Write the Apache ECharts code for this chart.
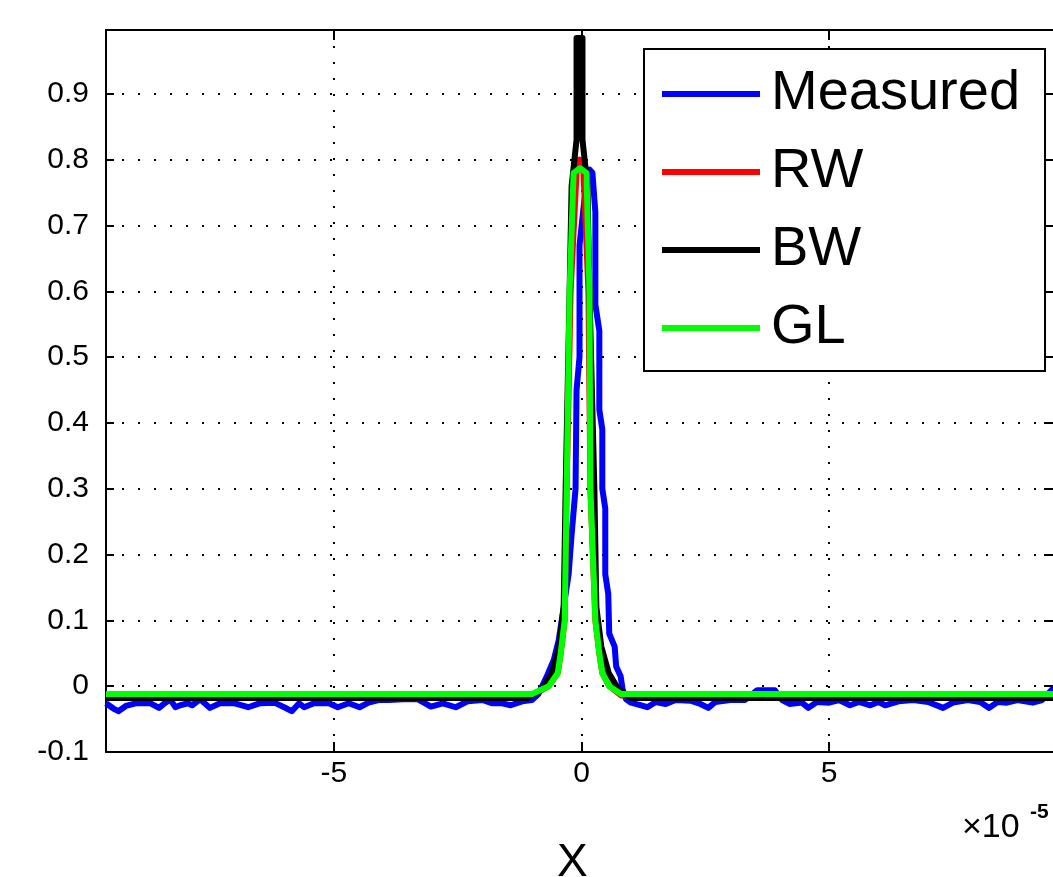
<!doctype html>
<html lang="en">
<head>
<meta charset="UTF-8">
<title>Measured / RW / BW / GL</title>
<style>
    *{padding:0;margin:0;}
    body{background:#fff;}
    #main{width:1053px;height:877px;}
</style>
</head>
<body>
<div id="main"></div>
<script src="https://cdn.jsdelivr.net/npm/echarts@6/dist/echarts.min.js"></script>
<script>
// x values are in units of 1e-5 (axis shows "x 10^-5")
var xMin = -9.6, xMax = 9.6;
var yMin = -0.1, yMax = 0.997;
var xTickLabels = [-5, 0, 5];

// measured curve, split in three pieces (left baseline, peak, right baseline)
var measLeftX = [-9.6, -9.45, -9.35, -9.2, -9.0, -8.7, -8.53, -8.4, -8.3, -8.2, -8.1, -7.95, -7.86, -7.7, -7.5, -7.3, -7.0, -6.73, -6.5, -6.2, -5.95, -5.85, -5.7, -5.6, -5.4, -5.1, -4.92, -4.7, -4.48, -4.3, -4.1, -3.9, -3.6, -3.3, -3.04, -2.8, -2.54, -2.3, -2.0, -1.8, -1.6, -1.43, -1.2, -1.0];
var measLeftY = [-0.026, -0.034, -0.038, -0.03, -0.026, -0.026, -0.033, -0.025, -0.02, -0.032, -0.029, -0.026, -0.029, -0.02, -0.033, -0.026, -0.026, -0.032, -0.026, -0.025, -0.034, -0.038, -0.026, -0.032, -0.026, -0.026, -0.032, -0.026, -0.032, -0.025, -0.021, -0.021, -0.02, -0.02, -0.031, -0.026, -0.032, -0.023, -0.021, -0.026, -0.026, -0.029, -0.023, -0.021];
var measPeakX = [-0.87, -0.7, -0.56, -0.46, -0.4, -0.26, -0.2, -0.12, -0.1, -0.04, -0.04, 0.06, 0.16, 0.22, 0.28, 0.28, 0.36, 0.36, 0.42, 0.42, 0.48, 0.48, 0.54, 0.56, 0.67, 0.70, 0.79, 0.83, 0.9];
var measPeakY = [-0.012, 0.015, 0.04, 0.07, 0.1, 0.17, 0.23, 0.3, 0.45, 0.5, 0.67, 0.74, 0.785, 0.78, 0.72, 0.58, 0.54, 0.42, 0.39, 0.30, 0.27, 0.17, 0.14, 0.08, 0.06, 0.03, 0.015, -0.005, -0.02];
var measRightX = [1.0, 1.15, 1.33, 1.5, 1.7, 1.9, 2.2, 2.4, 2.56, 2.7, 3.0, 3.3, 3.55, 3.9, 4.05, 4.2, 4.45, 4.58, 4.75, 5.0, 5.2, 5.42, 5.6, 5.83, 6.0, 6.13, 6.4, 6.7, 7.0, 7.3, 7.5, 7.8, 8.05, 8.23, 8.4, 8.59, 8.8, 9.11, 9.3, 9.5, 9.6];
var measRightY = [-0.025, -0.028, -0.032, -0.024, -0.027, -0.021, -0.022, -0.027, -0.033, -0.024, -0.021, -0.021, -0.006, -0.006, -0.021, -0.027, -0.025, -0.033, -0.024, -0.025, -0.021, -0.029, -0.024, -0.029, -0.024, -0.029, -0.023, -0.021, -0.024, -0.033, -0.025, -0.021, -0.024, -0.033, -0.024, -0.025, -0.021, -0.025, -0.021, -0.005, -0.005];

// RW
var rwX = [-9.6, -1.0, -0.66, -0.48, -0.42, -0.34, -0.30, -0.22, -0.1, -0.04, 0.04, 0.14, 0.18, 0.28, 0.36, 0.42, 0.56, 0.8, 9.6];
var rwY = [-0.014, -0.014, 0.0, 0.02, 0.05, 0.1, 0.3, 0.6, 0.78, 0.80, 0.78, 0.6, 0.3, 0.1, 0.05, 0.02, 0.0, -0.014, -0.014];

// BW (narrow flat-topped column)
var bwX = [-9.6, -1.1, -0.8, -0.6, -0.45, -0.36, -0.32, -0.24, -0.2, -0.1, -0.1, 0.02, 0.02, 0.12, 0.16, 0.26, 0.3, 0.4, 0.55, 0.75, 1.0, 9.6];
var bwY = [-0.018, -0.018, -0.005, 0.02, 0.06, 0.12, 0.3, 0.6, 0.76, 0.83, 0.985, 0.985, 0.83, 0.76, 0.6, 0.3, 0.12, 0.06, 0.02, -0.005, -0.018, -0.018];

// GL
var glX = [-9.6, -1.0, -0.66, -0.48, -0.42, -0.34, -0.30, -0.24, -0.16, -0.03, 0.10, 0.16, 0.18, 0.28, 0.36, 0.42, 0.56, 0.8, 9.6];
var glY = [-0.012, -0.012, 0.0, 0.02, 0.05, 0.1, 0.3, 0.6, 0.78, 0.787, 0.78, 0.6, 0.3, 0.1, 0.05, 0.02, 0.0, -0.012, -0.012];

var font = "'Liberation Sans', Arial, sans-serif";

function pairs(xs, ys){
    var out = [];
    for (var i = 0; i < xs.length; i++) {
        out.push([xs[i], ys[i]]);
    }
    return out;
}

var measured = pairs(measLeftX, measLeftY)
    .concat(pairs(measPeakX, measPeakY))
    .concat(pairs(measRightX, measRightY));

function lineSeries(name, data, color){
    return {
        name: name,
        type: 'line',
        data: data,
        showSymbol: false,
        symbol: 'none',
        lineStyle: {color: color, width: 6, join: 'round'},
        itemStyle: {color: color},
        emphasis: {disabled: true}
    };
}

var axisLine = {onZero: false, lineStyle: {color: '#000', width: 2}};
var dotted = {show: true, lineStyle: {color: '#000', width: 2, type: [2, 14]}};

var myChart = echarts.init(document.getElementById('main'));
var option = {
    animation: false,
    backgroundColor: '#fff',
    // right side of the box sits just past the picture edge
    grid: {left: 106, top: 30, width: 951, height: 722, outerBoundsMode: 'none', containLabel: false},
    legend: {
        orient: 'vertical',
        left: 644,
        top: 49,
        backgroundColor: '#fff',
        borderColor: '#000',
        borderWidth: 2,
        padding: [17, 25, 15, 18],
        itemGap: 22,
        itemWidth: 98,
        itemHeight: 6,
        icon: 'rect',
        textStyle: {fontSize: 56, fontFamily: font, color: '#000', padding: [0, 0, 0, 6]},
        data: ['Measured', 'RW', 'BW', 'GL']
    },
    xAxis: [{
        type: 'value',
        position: 'bottom',
        min: xMin,
        max: xMax,
        splitNumber: 4,
        axisLine: axisLine,
        axisTick: {inside: true, length: 10, lineStyle: {color: '#000', width: 2}},
        axisLabel: {
            color: '#000', fontSize: 30, fontFamily: font, margin: 7,
            formatter: function (v) { return xTickLabels.indexOf(v) >= 0 ? String(v) : ''; }
        },
        splitLine: dotted
    }, {
        type: 'value',
        position: 'top',
        min: xMin,
        max: xMax,
        splitNumber: 4,
        axisLine: axisLine,
        axisTick: {inside: true, length: 10, lineStyle: {color: '#000', width: 2}},
        axisLabel: {show: false},
        splitLine: {show: false}
    }],
    yAxis: [{
        type: 'value',
        position: 'left',
        min: yMin,
        max: yMax,
        interval: 0.1,
        axisLine: axisLine,
        axisTick: {inside: true, length: 8, lineStyle: {color: '#000', width: 2}},
        axisLabel: {
            color: '#000', fontSize: 30, fontFamily: font, margin: 17,
            formatter: function (v) { return v > 0.95 ? '' : String(Math.round(v * 10) / 10); }
        },
        splitLine: dotted
    }, {
        type: 'value',
        position: 'right',
        min: yMin,
        max: yMax,
        interval: 0.1,
        axisLine: axisLine,
        axisTick: {inside: true, length: 13, lineStyle: {color: '#000', width: 2}},
        axisLabel: {show: false},
        splitLine: {show: false}
    }],
    series: [
        lineSeries('Measured', measured, '#0000ff'),
        lineSeries('RW', pairs(rwX, rwY), '#ff0000'),
        lineSeries('BW', pairs(bwX, bwY), '#000000'),
        lineSeries('GL', pairs(glX, glY), '#00ff00')
    ],
    graphic: [{
        type: 'text',
        left: 557,
        top: 840,
        style: {text: 'X', fontSize: 46, fontFamily: font, fill: '#000'}
    }, {
        type: 'text',
        left: 962,
        top: 811,
        style: {text: '\u00d710', fontSize: 34, fontFamily: font, fill: '#000'}
    }, {
        type: 'text',
        left: 1030,
        top: 802,
        style: {text: '-5', fontSize: 21, fontWeight: 'bold', fontFamily: font, fill: '#000'}
    }]
};
myChart.setOption(option);
</script>
</body>
</html>
